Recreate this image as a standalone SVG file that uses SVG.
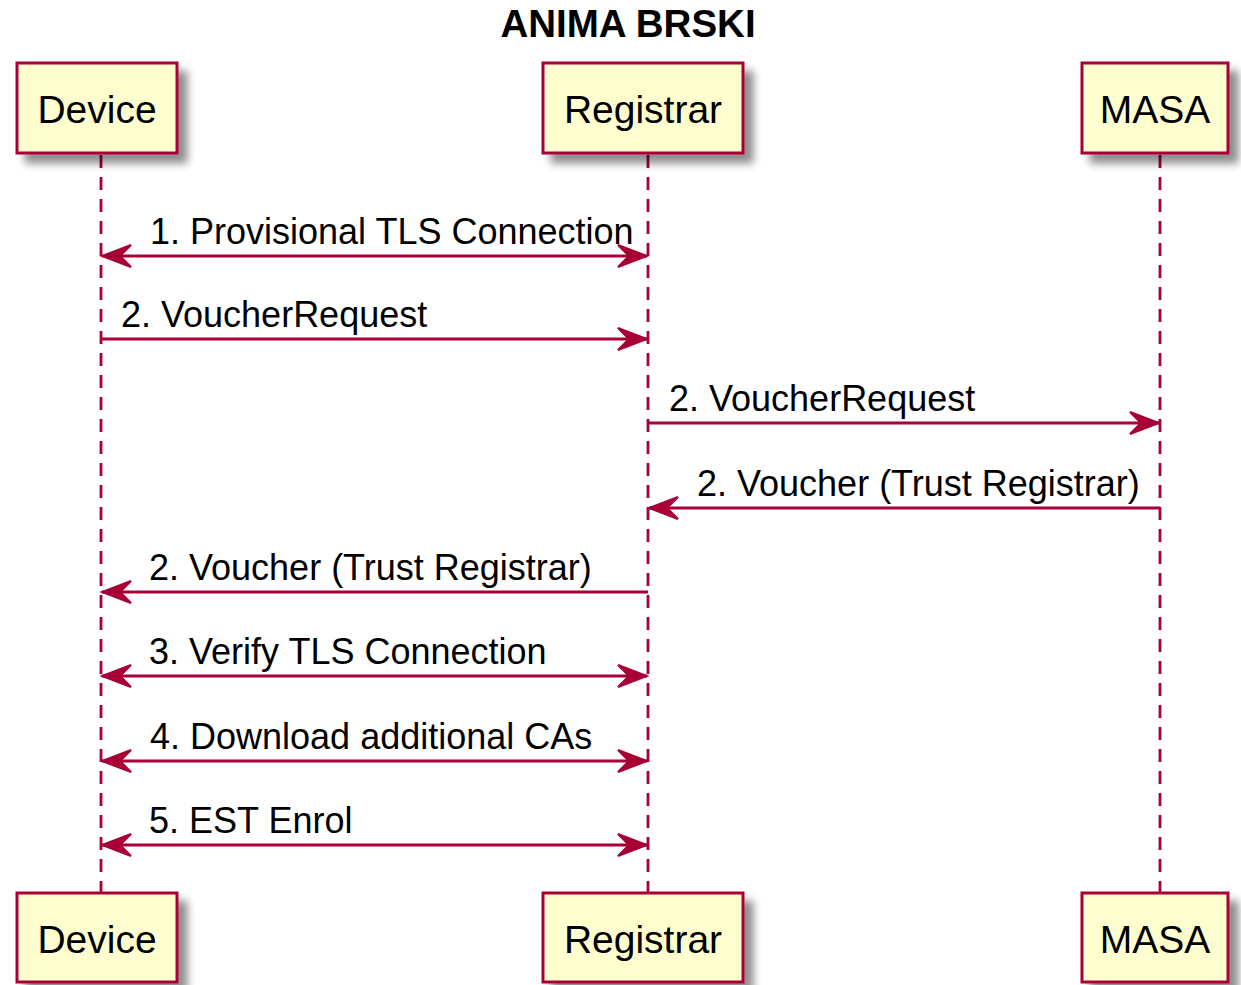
<svg xmlns="http://www.w3.org/2000/svg" width="1241" height="985" viewBox="0 0 1241 985">
<defs>
<filter id="sh" x="-20%" y="-20%" width="150%" height="150%">
<feGaussianBlur in="SourceAlpha" stdDeviation="4"/>
<feOffset dx="9" dy="9" result="b"/>
<feComponentTransfer><feFuncA type="linear" slope="0.45"/></feComponentTransfer>
<feMerge><feMergeNode/><feMergeNode in="SourceGraphic"/></feMerge>
</filter>
<marker id="ah" viewBox="0 0 32 26" refX="30" refY="13" markerWidth="32" markerHeight="26" markerUnits="userSpaceOnUse" orient="auto-start-reverse">
<polygon points="1,2 30,13 1,24 12,13" fill="#A80036" stroke="#A80036" stroke-width="2" stroke-linejoin="miter"/>
</marker>
</defs>
<style>
.box{fill:#FEFECE;stroke:#A80036;stroke-width:3;}
.pt{font-family:"Liberation Sans",Arial,sans-serif;font-size:39px;fill:#000;text-anchor:middle;}
.life{stroke:#A80036;stroke-width:2.8;stroke-dasharray:13,9;fill:none;}
.msg{stroke:#A80036;stroke-width:2.8;fill:none;}
.ml{font-family:"Liberation Sans",Arial,sans-serif;font-size:36px;fill:#000;}
.title{font-family:"Liberation Sans",Arial,sans-serif;font-size:38.5px;font-weight:bold;fill:#000;text-anchor:middle;}
</style>
<rect width="1241" height="985" fill="#FFFFFF"/>
<text class="title" x="628" y="37">ANIMA BRSKI</text>
<g id="lifelines">
<line class="life" x1="101" y1="155" x2="101" y2="893"/>
<line class="life" x1="648" y1="155" x2="648" y2="893"/>
<line class="life" x1="1160" y1="155" x2="1160" y2="893"/>
</g>
<g id="device-top"><rect class="box" x="17" y="63" width="160" height="90" filter="url(#sh)"/><text class="pt" x="97" y="123">Device</text></g>
<g id="registrar-top"><rect class="box" x="543" y="63" width="200" height="90" filter="url(#sh)"/><text class="pt" x="643" y="123">Registrar</text></g>
<g id="masa-top"><rect class="box" x="1082" y="63" width="146" height="90" filter="url(#sh)"/><text class="pt" x="1155" y="123">MASA</text></g>
<g id="device-bottom"><rect class="box" x="17" y="893" width="160" height="89" filter="url(#sh)"/><text class="pt" x="97" y="953">Device</text></g>
<g id="registrar-bottom"><rect class="box" x="543" y="893" width="200" height="89" filter="url(#sh)"/><text class="pt" x="643" y="953">Registrar</text></g>
<g id="masa-bottom"><rect class="box" x="1082" y="893" width="146" height="89" filter="url(#sh)"/><text class="pt" x="1155" y="953">MASA</text></g>
<g id="connectors">
<line class="msg" x1="102" y1="256" x2="647" y2="256" marker-start="url(#ah)" marker-end="url(#ah)"/>
<text class="ml" x="150" y="244">1. Provisional TLS Connection</text>
<line class="msg" x1="101" y1="339" x2="647" y2="339" marker-end="url(#ah)"/>
<text class="ml" x="121" y="327">2. VoucherRequest</text>
<line class="msg" x1="648" y1="423" x2="1159" y2="423" marker-end="url(#ah)"/>
<text class="ml" x="669" y="411">2. VoucherRequest</text>
<line class="msg" x1="1160" y1="508" x2="649" y2="508" marker-end="url(#ah)"/>
<text class="ml" x="697" y="496">2. Voucher (Trust Registrar)</text>
<line class="msg" x1="648" y1="592" x2="102" y2="592" marker-end="url(#ah)"/>
<text class="ml" x="149" y="580">2. Voucher (Trust Registrar)</text>
<line class="msg" x1="102" y1="676" x2="647" y2="676" marker-start="url(#ah)" marker-end="url(#ah)"/>
<text class="ml" x="149" y="664">3. Verify TLS Connection</text>
<line class="msg" x1="102" y1="761" x2="647" y2="761" marker-start="url(#ah)" marker-end="url(#ah)"/>
<text class="ml" x="150" y="749">4. Download additional CAs</text>
<line class="msg" x1="102" y1="845" x2="647" y2="845" marker-start="url(#ah)" marker-end="url(#ah)"/>
<text class="ml" x="149" y="833">5. EST Enrol</text>
</g>
</svg>
